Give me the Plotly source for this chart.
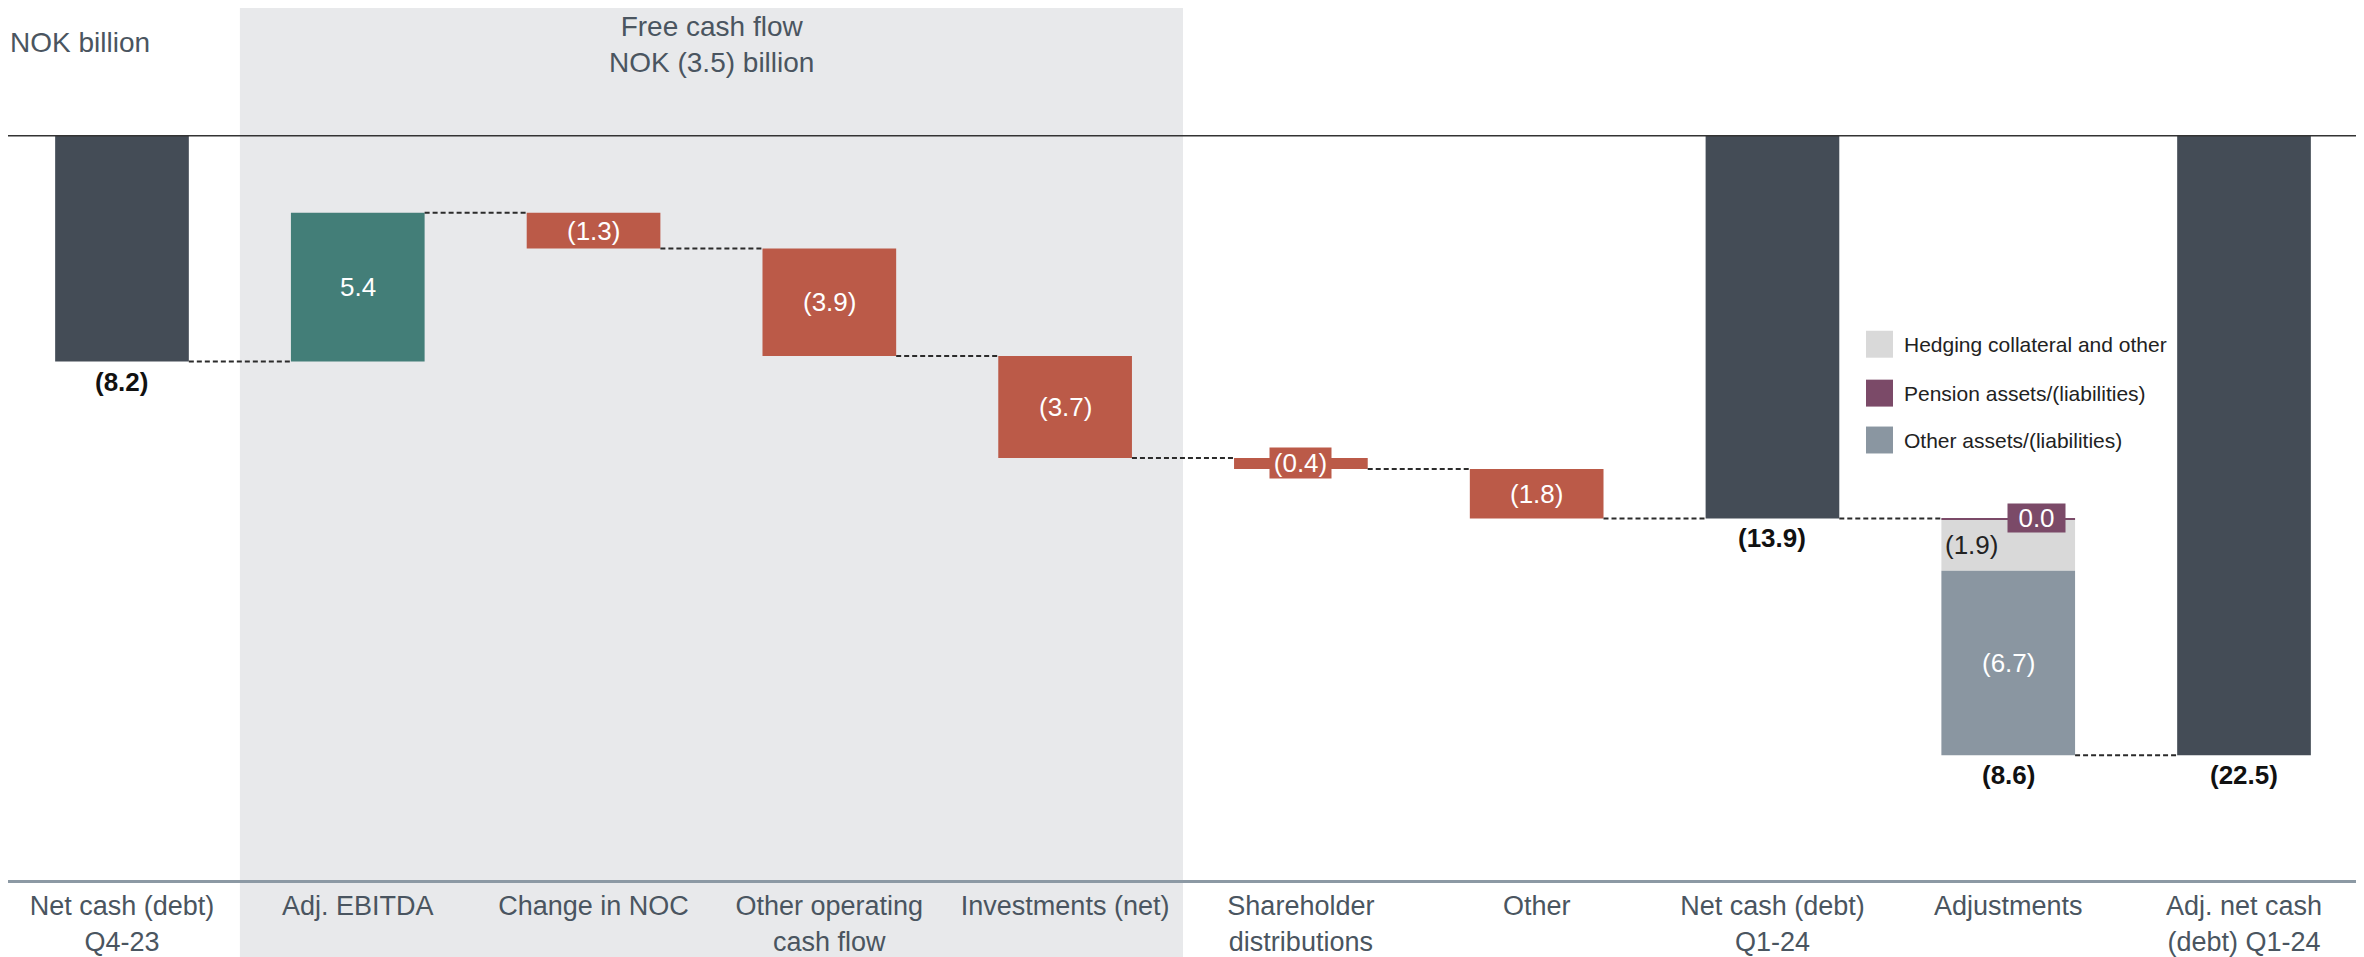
import plotly.graph_objects as go

# ---------------- data ----------------
categories = ["Net cash (debt)<br>Q4-23", "Adj. EBITDA", "Change in NOC",
              "Other operating<br>cash flow", "Investments (net)",
              "Shareholder<br>distributions", "Other", "Net cash (debt)<br>Q1-24",
              "Adjustments", "Adj. net cash<br>(debt) Q1-24"]
start_value = -8.2
flow_values = [5.4, -1.3, -3.9, -3.7, -0.4, -1.8]
net_q1_value = -13.9
adj_names = ["Hedging collateral and other", "Pension assets/(liabilities)", "Other assets/(liabilities)"]
adj_hedging = -1.9
adj_pension = 0.0
adj_other = -6.7
adj_net_value = -22.5
fcf_title = "Free cash flow<br>NOK (3.5) billion"
unit_label = "NOK billion"

# ---------------- style ----------------
FONT = "Liberation Sans"
C_TOTAL = "#444c56"
C_POS = "#437e78"
C_NEG = "#bb5a48"
C_HEDGE = "#d9d9d9"
C_PENSION = "#7b4a68"
C_OTHER = "#8a96a1"
C_SHADE = "#e8e9eb"
C_TEXT = "#4a5560"
BW = 0.567
W, H = 2356, 949          # page body has 8px margin
MT, MB = 0, 75
PLOT_H = H - MT - MB


def fmt(v):
    return f"({abs(v):.1f})" if v < 0 else f"{v:.1f}"


def py(page_y):
    """page pixel y -> paper coordinate"""
    return (H - MB - (page_y - 8)) / PLOT_H


def px(page_x):
    return (page_x - 8) / W


fig = go.Figure()
annotations = []
shapes = []

# totals
total_idx = [0, 7, 9]
total_vals = [start_value, net_q1_value, adj_net_value]
fig.add_trace(go.Bar(x=total_idx, y=total_vals, base=[0, 0, 0], width=BW,
                     marker=dict(color=C_TOTAL, line=dict(width=0)),
                     showlegend=False, hoverinfo="skip"))
for i, v in zip(total_idx, total_vals):
    annotations.append(dict(x=i, y=v, xref="x", yref="y", text=f"<b>{fmt(v)}</b>",
                            showarrow=False, yanchor="top", yshift=-3,
                            font=dict(size=26, color="#111111", family=FONT)))

# flows
levels = [start_value]
for d in flow_values:
    levels.append(round(levels[-1] + d, 2))
flow_x = list(range(1, 1 + len(flow_values)))
flow_base = levels[:-1]
flow_colors = [C_POS if d > 0 else C_NEG for d in flow_values]
fig.add_trace(go.Bar(x=flow_x, y=flow_values, base=flow_base, width=BW,
                     marker=dict(color=flow_colors, line=dict(width=0)),
                     showlegend=False, hoverinfo="skip"))
for i, b, d, c in zip(flow_x, flow_base, flow_values, flow_colors):
    small = abs(d) < 1.0
    ann = dict(x=i, y=b + d / 2, xref="x", yref="y", text=fmt(d),
               showarrow=False, yanchor="middle",
               font=dict(size=26, color="white", family=FONT))
    if small:
        ann.update(bgcolor=c, width=61, height=30, borderpad=0)
    annotations.append(ann)

# adjustments (stacked)
ax = 8
hedge_base = net_q1_value + adj_pension
other_base = hedge_base + adj_hedging
fig.add_trace(go.Bar(x=[ax], y=[adj_hedging], base=[hedge_base], width=BW,
                     marker=dict(color=C_HEDGE, line=dict(width=0)),
                     showlegend=False, hoverinfo="skip"))
fig.add_trace(go.Bar(x=[ax], y=[adj_other], base=[other_base], width=BW,
                     marker=dict(color=C_OTHER, line=dict(width=0)),
                     showlegend=False, hoverinfo="skip"))
pension_draw = adj_pension if adj_pension != 0 else -0.05
fig.add_trace(go.Bar(x=[ax], y=[pension_draw], base=[net_q1_value], width=BW,
                     marker=dict(color=C_PENSION, line=dict(width=0)),
                     showlegend=False, hoverinfo="skip"))
adj_sum = adj_pension + adj_hedging + adj_other
annotations.append(dict(x=ax + BW / 2, y=net_q1_value, xref="x", yref="y", text=fmt(adj_pension),
                        showarrow=False, xanchor="right", yanchor="middle", xshift=-9,
                        bgcolor=C_PENSION, width=57, height=28, borderpad=0,
                        font=dict(size=26, color="white", family=FONT)))
annotations.append(dict(x=ax - BW / 2, y=hedge_base + adj_hedging / 2, xref="x", yref="y",
                        text=fmt(adj_hedging), showarrow=False, xanchor="left", xshift=2,
                        font=dict(size=26, color="#222222", family=FONT)))
annotations.append(dict(x=ax, y=other_base + adj_other / 2, xref="x", yref="y",
                        text=fmt(adj_other), showarrow=False,
                        font=dict(size=26, color="white", family=FONT)))
annotations.append(dict(x=ax, y=other_base + adj_other, xref="x", yref="y",
                        text=f"<b>{fmt(adj_sum)}</b>", showarrow=False, yanchor="top", yshift=-3,
                        font=dict(size=26, color="#111111", family=FONT)))

# connectors
conn_levels = levels + [net_q1_value, other_base + adj_other]
for i, lv in enumerate(conn_levels):
    fig.add_trace(go.Scatter(x=[i + BW / 2, i + 1 - BW / 2], y=[lv, lv], mode="lines",
                             line=dict(color="#2b2b2b", width=2, dash="5px,3px"),
                             showlegend=False, hoverinfo="skip"))

# shaded free cash flow region
shapes.append(dict(type="rect", xref="x", yref="paper", x0=0.5, x1=4.5,
                   y0=-(MB + 10) / PLOT_H, y1=1, fillcolor=C_SHADE, line=dict(width=0), layer="below"))
# zero line
shapes.append(dict(type="line", xref="paper", yref="y", x0=0, x1=1, y0=0, y1=0,
                   line=dict(color="#333333", width=1.5)))

annotations.append(dict(x=2.5, y=py(45), xref="x", yref="paper", text=fcf_title,
                        showarrow=False, yanchor="middle", align="center",
                        font=dict(size=28, color=C_TEXT, family=FONT)))
annotations.append(dict(x=0, y=py(43), xref="paper", yref="paper", text=unit_label,
                        showarrow=False, xanchor="left", yanchor="middle",
                        font=dict(size=28, color=C_TEXT, family=FONT)))

# custom legend
leg_colors = [C_HEDGE, C_PENSION, C_OTHER]
leg_centers = [345, 394, 441]
for name, col, cy in zip(adj_names, leg_colors, leg_centers):
    shapes.append(dict(type="rect", xref="paper", yref="paper",
                       x0=px(1866), x1=px(1893),
                       y0=py(cy + 13.5), y1=py(cy - 13.5),
                       fillcolor=col, line=dict(width=0)))
    annotations.append(dict(x=px(1902), y=py(cy), xref="paper", yref="paper",
                            text=name, showarrow=False, xanchor="left", yanchor="middle",
                            font=dict(size=21, color="#222222", family=FONT)))

y_top = 128 / 27.6
y_bot = -(PLOT_H - 128) / 27.6
x_left = -114 / 235.8
x_right = 9 + (W - 2236) / 235.8
fig.update_layout(
    width=W, height=H, barmode="overlay",
    margin=dict(l=0, r=0, t=MT, b=MB),
    plot_bgcolor="white", paper_bgcolor="white",
    xaxis=dict(range=[x_left, x_right], tickmode="array", tickvals=list(range(len(categories))),
               ticktext=categories, showgrid=False, zeroline=False, showline=True,
               linecolor="#8c99a4", linewidth=3, ticks="", ticklen=0,
               tickfont=dict(size=27, color=C_TEXT, family=FONT)),
    yaxis=dict(range=[y_bot, y_top], visible=False, showgrid=False, zeroline=False),
    shapes=shapes, annotations=annotations, showlegend=False,
    font=dict(family=FONT),
)
fig.write_html("out.html")
